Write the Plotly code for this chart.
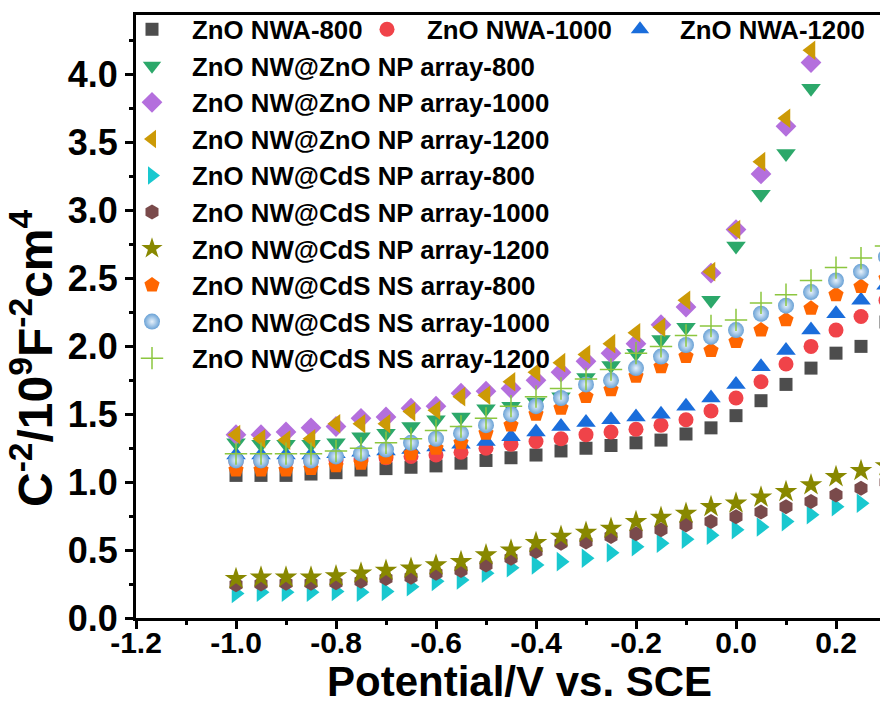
import plotly.graph_objects as go

potential = [-1.0, -0.95, -0.9, -0.85, -0.8, -0.75, -0.7, -0.65, -0.6, -0.55, -0.5, -0.45, -0.4,
             -0.35, -0.3, -0.25, -0.2, -0.15, -0.1, -0.05, 0.0, 0.05, 0.1, 0.15, 0.2, 0.25, 0.3]

names = ["ZnO NWA-800", "ZnO NWA-1000", "ZnO NWA-1200",
         "ZnO NW@ZnO NP array-800", "ZnO NW@ZnO NP array-1000", "ZnO NW@ZnO NP array-1200",
         "ZnO NW@CdS NP array-800", "ZnO NW@CdS NP array-1000", "ZnO NW@CdS NP array-1200",
         "ZnO NW@CdS NS array-800", "ZnO NW@CdS NS array-1000", "ZnO NW@CdS NS array-1200"]

nwa_800 = [1.05, 1.05, 1.05, 1.06, 1.07, 1.09, 1.10, 1.11, 1.12, 1.14, 1.16, 1.18, 1.20,
           1.23, 1.25, 1.27, 1.29, 1.31, 1.355, 1.40, 1.49, 1.60, 1.72, 1.84, 1.95, 2.00, 2.18]
nwa_1000 = [1.15, 1.15, 1.15, 1.15, 1.16, 1.17, 1.18, 1.19, 1.20, 1.22, 1.25, 1.28, 1.30,
            1.32, 1.35, 1.37, 1.39, 1.42, 1.46, 1.525, 1.62, 1.74, 1.87, 2.00, 2.12, 2.22, 2.34]
nwa_1200 = [1.20, 1.20, 1.20, 1.20, 1.21, 1.22, 1.23, 1.24, 1.26, 1.28, 1.30, 1.335, 1.37,
            1.41, 1.44, 1.46, 1.48, 1.50, 1.56, 1.62, 1.72, 1.85, 1.97, 2.12, 2.24, 2.34, 2.45]
znonp_800 = [1.29, 1.28, 1.28, 1.28, 1.29, 1.335, 1.36, 1.41, 1.46, 1.48, 1.54, 1.56, 1.59,
             1.63, 1.77, 1.86, 1.95, 2.05, 2.14, 2.34, 2.74, 3.12, 3.42, 3.90, None, None, None]
znonp_1000 = [1.35, 1.35, 1.37, 1.40, 1.41, 1.47, 1.48, 1.545, 1.56, 1.655, 1.67, 1.69, 1.75,
              1.81, 1.89, 1.95, 2.02, 2.16, 2.29, 2.54, 2.86, 3.27, 3.62, 4.09, None, None, None]
znonp_1200 = [1.35, 1.32, 1.31, 1.32, 1.43, 1.43, 1.43, 1.52, 1.53, 1.63, 1.64, 1.74, 1.81,
              1.88, 1.94, 2.02, 2.10, 2.14, 2.34, 2.55, 2.86, 3.36, 3.68, 4.18, None, None, None]
cdsnp_800 = [0.18, 0.19, 0.19, 0.19, 0.195, 0.19, 0.195, 0.23, 0.27, 0.28, 0.33, 0.37, 0.39,
             0.415, 0.44, 0.48, 0.525, 0.55, 0.58, 0.61, 0.65, 0.67, 0.71, 0.76, 0.82, 0.845, 0.88]
cdsnp_1000 = [0.245, 0.25, 0.255, 0.255, 0.26, 0.27, 0.29, 0.30, 0.33, 0.35, 0.39, 0.44, 0.49,
              0.55, 0.56, 0.60, 0.62, 0.65, 0.685, 0.71, 0.746, 0.78, 0.82, 0.857, 0.906, 0.955, 1.0]
cdsnp_1200 = [0.29, 0.30, 0.30, 0.30, 0.31, 0.33, 0.35, 0.366, 0.39, 0.415, 0.464, 0.50, 0.555,
              0.60, 0.63, 0.66, 0.71, 0.74, 0.77, 0.82, 0.845, 0.89, 0.93, 0.98, 1.04, 1.085, 1.12]
cdsns_800 = [1.09, 1.09, 1.09, 1.10, 1.12, 1.14, 1.18, 1.21, 1.25, 1.29, 1.36, 1.42, 1.50,
             1.545, 1.63, 1.68, 1.78, 1.85, 1.925, 1.97, 2.035, 2.12, 2.195, 2.28, 2.38, 2.44, 2.50]
cdsns_1000 = [1.16, 1.16, 1.16, 1.16, 1.19, 1.21, 1.24, 1.29, 1.32, 1.36, 1.42, 1.50, 1.56,
              1.62, 1.72, 1.75, 1.84, 1.925, 2.01, 2.07, 2.12, 2.24, 2.30, 2.40, 2.485, 2.55, 2.66]
cdsns_1200 = [1.21, 1.21, 1.21, 1.21, 1.23, 1.25, 1.29, 1.32, 1.38, 1.41, 1.47, 1.56, 1.63,
              1.69, 1.76, 1.83, 1.95, 2.00, 2.08, 2.15, 2.195, 2.32, 2.38, 2.485, 2.58, 2.65, 2.74]

series = [nwa_800, nwa_1000, nwa_1200, znonp_800, znonp_1000, znonp_1200,
          cdsnp_800, cdsnp_1000, cdsnp_1200, cdsns_800, cdsns_1000, cdsns_1200]

x_ticks = [-1.2, -1.0, -0.8, -0.6, -0.4, -0.2, 0.0, 0.2]
x_labels = ["-1.2", "-1.0", "-0.8", "-0.6", "-0.4", "-0.2", "0.0", "0.2"]
y_ticks = [0, 0.5, 1.0, 1.5, 2.0, 2.5, 3.0, 3.5, 4.0]
y_labels = ["0.0", "0.5", "1.0", "1.5", "2.0", "2.5", "3.0", "3.5", "4.0"]

colors = ["#4d4d4d", "#f04349", "#1a6ddb", "#2ca86a", "#b46fdd", "#cc9a06",
          "#19c8cf", "#7a4a4b", "#888800", "#ff6600", "#6aa2d6", "#8cc63f"]
symbols = ["square", "circle", "triangle-up", "triangle-down", "diamond", "triangle-left",
           "triangle-right", "hexagon", "star", "pentagon", "circle", "cross-thin"]
sizes = [13, 15, 17, 17, 16, 17, 17, 15, 17, 16, 16, 16]
legend_ids = ["legend", "legend2", "legend3"] + ["legend"] * 9

fig = go.Figure()
for i, (nm, ys) in enumerate(zip(names, series)):
    marker = dict(symbol=symbols[i], color=colors[i], size=sizes[i], line=dict(width=0))
    if i == 10:
        marker["gradient"] = dict(type="radial", color="#e8f2fb")
    if i == 11:
        marker["line"] = dict(width=1.5, color=colors[i])
    fig.add_trace(go.Scatter(x=potential, y=ys, mode="markers", name=nm, marker=marker,
                             legend=legend_ids[i], cliponaxis=True))

F = "Liberation Sans"
L, T = 136, 15
PW, PH = 880 - 136, 618 - 15

def px(xp):
    return (xp - L) / PW

def py(yp):
    return 1 - (yp - T) / PH

leg_font = dict(family=F, size=25.8, color="black", weight="bold")
common = dict(bgcolor="rgba(0,0,0,0)", borderwidth=0, font=leg_font, itemwidth=70,
              xanchor="left", yanchor="top", tracegroupgap=0, itemclick=False,
              maxheight=1)

fig.update_layout(
    width=880, height=715,
    margin=dict(l=L, r=0, t=T, b=715 - 618),
    paper_bgcolor="white", plot_bgcolor="white",
    showlegend=True,
    legend=dict(x=px(112), y=py(6), **common),
    legend2=dict(x=px(347), y=py(6), **common),
    legend3=dict(x=px(600), y=py(6), **common),
    xaxis=dict(range=[-1.2, 0.288], tickvals=x_ticks, ticktext=x_labels,
               showline=True, linecolor="black", linewidth=3, mirror=True,
               ticks="outside", ticklen=8, tickwidth=3, tickcolor="black",
               ticklabelstandoff=-12,
               minor=dict(dtick=0.1, ticks="outside", ticklen=4, tickwidth=3, tickcolor="black"),
               showgrid=False, zeroline=False,
               tickfont=dict(family=F, size=30, color="black", weight="bold")),
    yaxis=dict(range=[0, 4.44], tickvals=y_ticks, ticktext=y_labels,
               showline=True, linecolor="black", linewidth=3, mirror=False,
               ticks="outside", ticklen=8, tickwidth=3, tickcolor="black",
               minor=dict(dtick=0.25, ticks="outside", ticklen=4, tickwidth=3, tickcolor="black"),
               showgrid=False, zeroline=False,
               tickfont=dict(family=F, size=36, color="black", weight="bold")),
    annotations=[
        dict(text="Potential/V vs. SCE", xref="paper", yref="paper", x=px(519), y=py(681),
             xanchor="center", yanchor="middle", showarrow=False,
             font=dict(family=F, size=42, color="black", weight="bold")),
        dict(text="C<sup>-2</sup>/10<sup>9</sup>F<sup>-2</sup>cm<sup>4</sup>", xref="paper", yref="paper",
             x=px(32), y=py(358), xanchor="center", yanchor="middle", textangle=-90, showarrow=False,
             font=dict(family=F, size=48, color="black", weight="bold")),
    ],
)

fig.write_html("out.html")
